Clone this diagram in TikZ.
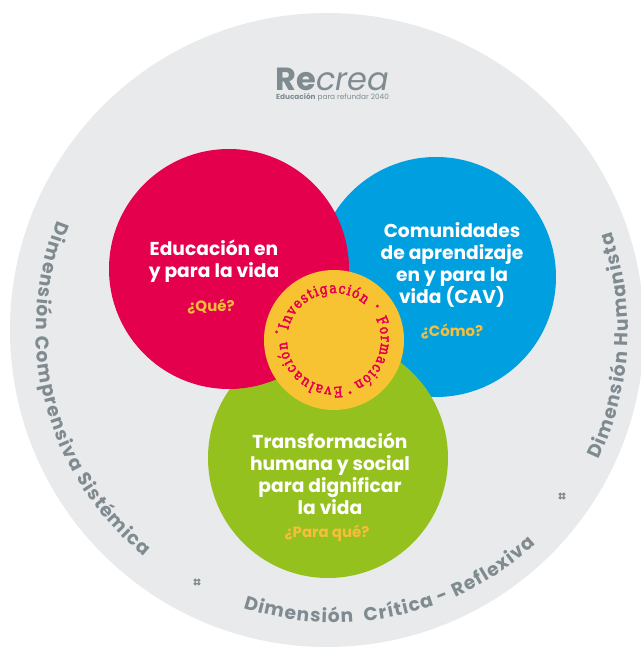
\documentclass[tikz,border=0pt]{standalone}
\usepackage{fontspec}
\setmainfont{Poppins}
\newfontfamily\ringfont[FakeStretch=0.85,FakeBold=3]{DejaVu Serif}
\usetikzlibrary{decorations.text,calc}
\definecolor{disc}{HTML}{E8EAEB}
\definecolor{dimgrey}{HTML}{7F8B90}
\definecolor{redc}{HTML}{E5004D}
\definecolor{bluec}{HTML}{00A0E0}
\definecolor{greenc}{HTML}{95C11F}
\definecolor{yellowc}{HTML}{F8C332}
\definecolor{quest}{HTML}{F7BE3A}
\tikzset{
  x=0.75pt,y=0.75pt,
  bub/.style={circle,inner sep=0pt,minimum size=#1*0.75pt},
  mainlab/.style={align=center,text=white,font=\fontsize{14}{16.6}\selectfont\bfseries},
  asklab/.style={text=quest,font=\fontsize{11.2}{13}\selectfont\bfseries},
  dimtext/.style={decorate,decoration={text along path,text align={fit to path},
     text={|\fontsize{14}{16}\selectfont\color{dimgrey}\bfseries|#1}}},
  ringtext/.style={decorate,decoration={text along path,text align={fit to path},
     text={|\fontsize{10.8}{13}\ringfont\color{redc}|#1}}},
  ringdot/.style={fill=redc,circle,inner sep=0pt,minimum size=2.4pt},
  petal/.style={fill=dimgrey,draw=none,circle,inner sep=0pt,minimum size=2.8pt},
}
\begin{document}
\begin{tikzpicture}
\useasboundingbox (0,0) rectangle (641,647);
\fill[white] (0,0) rectangle (641,647);
\begin{scope}
\clip (0,0) rectangle (641,647);
\node[bub=634,fill=disc] (disc) at (327,317) {};
\end{scope}
\coordinate (c) at (327,317);
\coordinate (cb) at (335,322);
\node[bub=240,fill=bluec] (blue) at (436,370) {};
\node[bub=240,fill=greenc] (green) at (328,189) {};
\node[bub=240,fill=redc] (red) at (229,378) {};
\node[bub=140,fill=yellowc] (ring) at (334,307) {};
% main labels
\node[mainlab] (t1) at (214,385.5) {Educación en\\y para la vida};
\node[asklab] (q1) at (211,340) {¿Qué?};
\node[mainlab] (t2) at (452,382) {Comunidades\\de aprendizaje\\en y para la\\vida (CAV)};
\node[asklab] (q2) at (452,315) {¿Cómo?};
\node[mainlab] (t3) at (330,173.5) {Transformación\\humana y social\\para dignificar\\la vida};
\node[asklab] (q3) at (327,114) {¿Para qué?};
% logo
\node[text=dimgrey,font=\fontsize{24}{24}\selectfont\bfseries,anchor=base west,inner sep=0pt] (re) at (275,556) {Re};
\node[text=dimgrey,font=\fontsize{24}{24}\selectfont\itshape,anchor=base west,inner sep=0pt] (crea) at (re.base east) {crea};
\node[text=dimgrey,font=\fontsize{5.5}{6}\selectfont,anchor=base,inner sep=0pt] (tag) at (332.5,547) {\textbf{Educación} para refundar 2040};
% curved dimension labels
\path[dimtext={Dimensión Comprensiva Sistémica}] (c) ++(158:291) arc (158:231:291);
\path[dimtext={Dimensión{ }{ }Crítica - Reflexiva}] (cb) ++(252:297.5) arc (252:312.5:297.5);
\path[dimtext={Dimensión Humanista}] (c) ++(-25.5:301) arc (-25.5:19:301);
% ring text
\path[ringtext={Investigación}] (ring.center) ++(168:47) arc (168:49:47);
\path[ringtext={Formación}] (ring.center) ++(27:47) arc (27:-65:47);
\path[ringtext={Evaluación}] (ring.center) ++(-80:47) arc (-80:-178:47);
\node[ringdot] (d1) at ($(ring.center)+(38:55)$) {};
\node[ringdot] (d2) at ($(ring.center)+(-73:55)$) {};
\node[ringdot] (d3) at ($(ring.center)+(172:58)$) {};
% small marks
\foreach \n/\px/\py in {a/197/65,b/562/151}{
  \foreach \dx/\dy in {-1.8/-1.8,1.8/-1.8,-1.8/1.8,1.8/1.8}
    \node[petal] at (\px+\dx,\py+\dy) {};
}
\end{tikzpicture}
\end{document}
